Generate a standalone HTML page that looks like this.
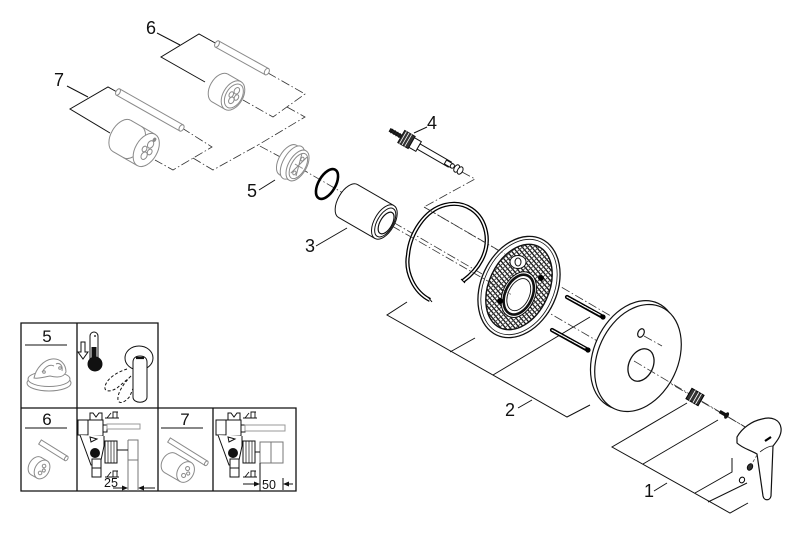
<!DOCTYPE html>
<html><head><meta charset="utf-8"><style>
html,body{margin:0;padding:0;background:#fff;width:800px;height:535px;overflow:hidden}
svg{display:block}
</style></head><body>
<svg width="800" height="535" viewBox="0 0 800 535" xmlns="http://www.w3.org/2000/svg" font-family="'Liberation Sans', Arial, sans-serif">
<defs>
<pattern id="h" width="3.6" height="3.6" patternUnits="userSpaceOnUse" patternTransform="rotate(25)"><rect width="3.6" height="3.6" fill="#fff"/><rect width="3.6" height="1.3" fill="#111"/><rect x="0" width="0.9" height="3.6" fill="#444"/></pattern>
</defs>
<rect width="800" height="535" fill="#fff"/>

<!-- dash-dot axes (under parts) -->
<g fill="none" stroke="#333" stroke-width="0.8" stroke-dasharray="9 2.5 1.5 2.5">
<path d="M268,73 L305,94 L273,117 L243,100"/>
<path d="M287,107 L305,117 L258,145 L284,159"/>
<path d="M182,128 L212,147 L173,170 L155,160"/>
<path d="M193,158 L213,170 L258,145"/>
<path d="M300,168 L752,431"/>
<path d="M462,172 L475,179 L424,207 L640,333"/>
</g>

<!-- leader / bracket lines -->
<g fill="none" stroke="#111" stroke-width="1">
<path d="M157,33 L180,45"/>
<path d="M205,82 L161,57 L199,34 L217,44"/>
<path d="M67,86 L88,97"/>
<path d="M110,133 L70,109 L108,87 L117,92"/>
<path d="M259,190 L275,180"/>
<path d="M316,246 L347,228"/>
<path d="M427,127 L414,133"/>
<path d="M407,302 L387,315 L567,417 L590,405"/>
<path d="M475,338 L450,352"/>
<path d="M590,317 L493,375"/>
<path d="M518,408 L532,400"/>
<path d="M687,403 L612,447 L730,513 L748,503"/>
<path d="M718,420 L643,464"/>
<path d="M732,458 L732,472 L695,493"/>
<path d="M747,483 L708,502"/>
<path d="M654,491 L667,483"/>
</g>

<!-- labels -->
<g font-size="18" fill="#111" text-anchor="middle">
<text x="151" y="34">6</text>
<text x="59" y="86">7</text>
<text x="252" y="197">5</text>
<text x="310" y="252">3</text>
<text x="432" y="129">4</text>
<text x="510" y="416">2</text>
<text x="649" y="497">1</text>
</g>

<!-- pins (grey) -->
<g transform="translate(217,44) rotate(29)" stroke="#8a8a8a" stroke-width="1" fill="#fff">
<rect x="0" y="-3.5" width="57" height="7"/>
<ellipse cx="0" cy="0" rx="2" ry="3.5"/>
<ellipse cx="57" cy="0" rx="2.2" ry="3.5"/>
</g>
<g transform="translate(118,92) rotate(29.5)" stroke="#8a8a8a" stroke-width="1" fill="#fff">
<rect x="0" y="-3.5" width="73" height="7"/>
<ellipse cx="0" cy="0" rx="2" ry="3.5"/>
<ellipse cx="73" cy="0" rx="2.2" ry="3.5"/>
</g>

<!-- cartridge 6 -->
<g transform="translate(220,88) rotate(30)" stroke="#8a8a8a" stroke-width="1" fill="#fff">
<ellipse cx="0" cy="0" rx="10" ry="16"/>
<rect x="0" y="-16" width="15" height="32" stroke="none"/>
<path d="M0,-16 H15 M0,16 H15" fill="none"/>
<ellipse cx="15" cy="0" rx="10" ry="16"/>
<ellipse cx="16" cy="0" rx="8" ry="13"/>
<ellipse cx="16" cy="-6" rx="2.5" ry="3.5"/>
<ellipse cx="16" cy="5" rx="2.5" ry="3.5"/>
<ellipse cx="19" cy="0" rx="2" ry="3"/>
<ellipse cx="13" cy="0" rx="2" ry="3"/>
</g>

<!-- cartridge 7 -->
<g transform="translate(122,136) rotate(30)" stroke="#8a8a8a" stroke-width="1" fill="#fff">
<ellipse cx="0" cy="0" rx="11" ry="18"/>
<rect x="0" y="-18" width="28" height="36" stroke="none"/>
<path d="M0,-18 H28 M0,18 H28" fill="none"/>
<path d="M12,-18 A11,18 0 0 1 12,18" fill="none"/>
<ellipse cx="28" cy="0" rx="11" ry="18"/>
<ellipse cx="29" cy="-7" rx="2.8" ry="4"/>
<ellipse cx="29" cy="6" rx="2.8" ry="4"/>
<ellipse cx="32" cy="0" rx="2.2" ry="3"/>
<ellipse cx="26" cy="0" rx="2.2" ry="3"/>
<ellipse cx="30" cy="-13" rx="1.2" ry="1.8" fill="#8a8a8a"/>
</g>

<!-- cartridge 5 -->
<g transform="translate(288,160) rotate(30)" stroke="#8a8a8a" stroke-width="1" fill="#fff">
<ellipse cx="0" cy="0" rx="9" ry="17"/>
<rect x="0" y="-17" width="10" height="34" stroke="none"/>
<path d="M0,-17 H10 M0,17 H10" fill="none"/>
<ellipse cx="5" cy="0" rx="9" ry="18.5"/>
<ellipse cx="11" cy="0" rx="9" ry="17"/>
<ellipse cx="12" cy="0" rx="7" ry="14"/>
<path d="M9,-12 L15,10 M15,-12 L9,10 M8,0 H17" fill="none"/>
<ellipse cx="12" cy="-8" rx="1.5" ry="2"/>
<ellipse cx="12" cy="8" rx="1.5" ry="2"/>
</g>

<!-- O-ring -->
<g transform="translate(327,184) rotate(30)">
<ellipse cx="0" cy="0" rx="8.5" ry="16.5" fill="none" stroke="#000" stroke-width="2.6"/>
</g>

<!-- cylinder 3 -->
<g transform="translate(348,201) rotate(30)" stroke="#111" stroke-width="1" fill="#fff">
<ellipse cx="0" cy="0" rx="10" ry="19"/>
<rect x="0" y="-19" width="42" height="38" stroke="none"/>
<path d="M0,-19 H42 M0,19 H42" fill="none"/>
<ellipse cx="42" cy="0" rx="10" ry="19"/>
<ellipse cx="43" cy="0" rx="8" ry="16"/>
<ellipse cx="44" cy="0" rx="6" ry="12" stroke-width="1.2"/>
</g>

<!-- stem 4 -->
<g transform="translate(390,130) rotate(30)" stroke="#111" stroke-width="1" fill="#fff">
<rect x="0" y="-1.5" width="13" height="3" fill="#222"/>
<path d="M2,-2.5 V2.5 M5,-2.5 V2.5 M8,-2.5 V2.5 M11,-2.5 V2.5" stroke-width="0.8"/>
<rect x="13" y="-7" width="12" height="14" fill="#333"/>
<path d="M15,-7 V7 M18,-7 V7 M21,-7 V7" stroke="#fff" stroke-width="0.8"/>
<rect x="25" y="-5.5" width="8" height="11"/>
<rect x="33" y="-3" width="36" height="6"/>
<rect x="64" y="-2.2" width="8" height="4.4"/>
<ellipse cx="72" cy="0" rx="2" ry="2.2"/>
<ellipse cx="77" cy="0" rx="2.5" ry="4"/>
<ellipse cx="81" cy="0" rx="2.5" ry="4"/>
</g>

<!-- snap ring -->
<path d="M430,300 C414,292 405,272 408,255 C410,233 425,210 445,205 C465,200 482,212 486,232 C490,252 478,270 463,281" fill="none" stroke="#000" stroke-width="4.2" stroke-linecap="butt"/>
<path d="M430,300 C414,292 405,272 408,255 C410,233 425,210 445,205 C465,200 482,212 486,232 C490,252 478,270 463,281" fill="none" stroke="#fff" stroke-width="1.6"/>
<path d="M428,297 L432,302 M461,279 L465,283" stroke="#000" stroke-width="1"/>

<!-- plate 2 -->
<g transform="translate(519,287) rotate(25)" stroke="#111" fill="#fff">
<ellipse cx="0" cy="0" rx="38" ry="53" stroke-width="1.3"/>
<ellipse cx="0" cy="0" rx="35" ry="50" stroke-width="0.8"/>
<ellipse cx="0" cy="0" rx="30" ry="45" fill="url(#h)" stroke-width="1.4"/>
<ellipse cx="3" cy="7" rx="16" ry="24" fill="#fff" stroke-width="1"/>
<ellipse cx="3" cy="7" rx="13.5" ry="21" fill="#fff" stroke-width="2.6"/>
<ellipse cx="3" cy="7" rx="10.5" ry="17" fill="none" stroke-width="0.9"/>
</g>
<ellipse cx="518" cy="262" rx="8" ry="6.5" fill="#fff" stroke="#111" stroke-width="1"/>
<ellipse cx="518" cy="262" rx="3" ry="4" fill="#fff" stroke="#111" stroke-width="1"/>
<circle cx="500" cy="301" r="3" fill="#000"/>
<circle cx="541" cy="278" r="3" fill="#000"/>

<!-- bolts -->
<g stroke-linecap="round">
<path d="M567,297 L603,317" stroke="#000" stroke-width="4.2"/>
<path d="M567,297 L600,315" stroke="#fff" stroke-width="1.2" stroke-dasharray="1.5 1"/>
<path d="M552,330 L588,350" stroke="#000" stroke-width="4.2"/>
<path d="M552,330 L585,348" stroke="#fff" stroke-width="1.2" stroke-dasharray="1.5 1"/>
</g>
<circle cx="603" cy="317" r="2.6" fill="#000"/>
<circle cx="588" cy="350" r="2.6" fill="#000"/>

<!-- cover (rosette) -->
<g stroke="#111" stroke-width="1.2" fill="#fff">
<ellipse transform="translate(634,355) rotate(25)" cx="0" cy="0" rx="40" ry="57"/>
<ellipse transform="translate(638,358) rotate(25)" cx="0" cy="0" rx="40" ry="56"/>
<ellipse transform="translate(641,365) rotate(25)" cx="0" cy="0" rx="12" ry="17" stroke-width="1.3"/>
<ellipse transform="translate(641,333) rotate(25)" cx="0" cy="0" rx="3" ry="4.5"/>
</g>

<!-- axes drawn over parts -->
<g fill="none" stroke="#333" stroke-width="0.8" stroke-dasharray="9 2.5 1.5 2.5">
<path d="M392,226 L512,295"/>
<path d="M424,207 L505,254"/>
<path d="M634,361 L752,431"/>
<path d="M644,336 L662,346"/>
</g>

<!-- nut -->
<g transform="translate(695,397) rotate(30)">
<rect x="-7" y="-6" width="14" height="12" fill="#333" stroke="#000" stroke-width="1"/>
<path d="M-3,-6 V6 M1,-6 V6 M4,-6 V6" stroke="#fff" stroke-width="0.9"/>
</g>
<!-- screw -->
<g transform="translate(724,414) rotate(30)">
<rect x="-5" y="-1.8" width="7" height="3.6" fill="#111"/>
<ellipse cx="3" cy="0" rx="2" ry="3.6" fill="#111"/>
</g>

<!-- handle -->
<path d="M737,437 C742,428 752,421 762,419 C772,416 780,420 781,428 C782,435 777,441 773,446 L771,496 C770,501 764,501 763,496 L757,454 C750,450 742,448 737,443 Z" fill="#fff" stroke="#111" stroke-width="1.2"/>
<path d="M760,452 C765,448 770,446 773,446" fill="none" stroke="#111" stroke-width="0.8"/>
<path d="M765,441 L771,437" stroke="#000" stroke-width="2.2"/>
<ellipse transform="translate(750,467) rotate(30)" cx="0" cy="0" rx="2.5" ry="3.5" fill="#333" stroke="#000" stroke-width="0.8"/>
<ellipse transform="translate(742,480) rotate(30)" cx="0" cy="0" rx="2.5" ry="3" fill="#fff" stroke="#000" stroke-width="1"/>
<path d="M757,455 L750,467" stroke="#333" stroke-width="0.7" stroke-dasharray="3 2"/>

<!-- ===== INSET ===== -->
<g fill="none" stroke="#111" stroke-width="1.3">
<path d="M21,323 H158 V408 H296 V491 H21 Z"/>
<path d="M21,408 H158"/>
<path d="M77,323 V491"/>
<path d="M158,408 V491"/>
<path d="M213,408 V491"/>
</g>
<g font-size="17" fill="#111" text-anchor="middle">
<text x="47" y="342">5</text>
<text x="47" y="425">6</text>
<text x="185" y="425">7</text>
</g>
<g stroke="#111" stroke-width="1">
<path d="M25,345 H67 M25,428 H67 M161,428 H203"/>
</g>

<!-- cell 5 drawing -->
<g stroke="#8a8a8a" stroke-width="1" fill="#fff">
<ellipse cx="49" cy="383" rx="22" ry="8"/>
<ellipse cx="49" cy="379" rx="21" ry="7.5"/>
<path d="M34,378 C36,368 44,360 52,359 C60,358 66,364 66,372 C64,377 58,378 50,376 C44,377 38,379 34,378 Z"/>
<path d="M42,372 C46,366 50,364 54,366 M56,364 C60,362 63,366 62,371"/>
<circle cx="44" cy="372" r="1.3"/>
<circle cx="60" cy="368" r="1.3"/>
</g>

<!-- thermometer cell -->
<g stroke="#111" stroke-width="1" fill="#fff">
<path d="M90,362 V336 A4,4 0 0 1 98,336 V362" />
<rect x="91.5" y="347" width="5" height="14" fill="#111" stroke="none"/>
<circle cx="95" cy="364" r="7" fill="#111"/>
<path d="M94,336 H96 M95,335 V337" stroke-width="0.8"/>
<path d="M81,342 H85 V352 H88 L83,359 L78,352 H81 Z" stroke-width="1"/>
<!-- ghosts -->
<path d="M127,369 C117,372 106,379 105,387 C104,392 111,392 117,388 L129,378" stroke-dasharray="3 2"/>
<path d="M131,376 C124,383 117,393 118,400 C119,405 126,402 130,396 L134,386" stroke-dasharray="3 2"/>
<!-- knob & lever -->
<ellipse cx="139" cy="358" rx="14" ry="12"/>
<path d="M133,362 C133,358 136,356 140,356 C144,356 147,358 147,362 L147,397 C147,404 133,404 133,397 Z"/>
<path d="M136,358 H144" stroke-width="2.2"/>
</g>

<!-- cell 6 parts -->
<g stroke="#8a8a8a" stroke-width="1" fill="#fff">
<g transform="translate(40,442) rotate(32)"><rect x="0" y="-2.5" width="31" height="5"/><ellipse cx="31" cy="0" rx="1.5" ry="2.5"/></g>
<g transform="translate(36,466) rotate(30)"><ellipse cx="0" cy="0" rx="7" ry="10"/><rect x="0" y="-10" width="7" height="20" stroke="none"/><path d="M0,-10 H7 M0,10 H7"/><ellipse cx="7" cy="0" rx="7" ry="10"/><circle cx="7" cy="-4" r="1.8"/><circle cx="7" cy="4" r="1.8"/><circle cx="9" cy="0" r="1.5"/></g>
</g>
<!-- cell 7 parts -->
<g stroke="#8a8a8a" stroke-width="1" fill="#fff">
<g transform="translate(169,440) rotate(32)"><rect x="0" y="-2.5" width="44" height="5"/><ellipse cx="44" cy="0" rx="1.5" ry="2.5"/></g>
<g transform="translate(170,463) rotate(30)"><ellipse cx="0" cy="0" rx="8" ry="11"/><rect x="0" y="-11" width="18" height="22" stroke="none"/><path d="M0,-11 H18 M0,11 H18"/><ellipse cx="18" cy="0" rx="8" ry="11"/><circle cx="18" cy="-4" r="2"/><circle cx="18" cy="4" r="2"/><circle cx="21" cy="0" r="1.6"/></g>
</g>

<!-- valve diagrams -->
<g stroke="#111" stroke-width="1" fill="#fff">
<path d="M90,420 V413 H93 L96,417 L99,413 H102 V420"/>
<rect x="87" y="420" width="16" height="16"/>
<rect x="78" y="420" width="10" height="15"/>
<rect x="103" y="425" width="4" height="7"/>
<path d="M80,435 L91,465 H100 L104,446 V436"/>
<path d="M90,437 L97,439 L91,442 Z"/>
<rect x="105" y="441" width="12" height="22"/>
<path d="M108,441 V463 M111,441 V463 M114,441 V463" stroke-width="0.7"/>
<circle cx="95" cy="453" r="4.5" fill="#111"/>
<rect x="92" y="459" width="9" height="18"/>
<path d="M92,468 H101"/>
<path d="M105,418 H119 M107,418 L111,413 M113,418 V412 M117,418 V412 M112.5,412 H118" stroke-width="0.9"/>
<path d="M105,477 H119 M107,477 L111,472 M113,477 V471 M117,477 V471 M112.5,471 H118" stroke-width="0.9"/>
</g>
<rect x="107" y="424" width="33" height="5" fill="#fff" stroke="#999" stroke-width="1"/>
<g stroke="#111" stroke-width="1" fill="none">
<path d="M128,440 H138 V491 M128,440 V491 M128,460 H138" stroke="#777"/>
<path d="M117,450 H128"/>
<path d="M113,488 H125 M155,488 H141"/>
</g>
<path d="M128,488 L122,485.5 V490.5 Z M138,488 L144,485.5 V490.5 Z" fill="#111"/>
<text x="111" y="487" font-size="12.5" text-anchor="middle" fill="#111">25</text>

<g transform="translate(138,0)" stroke="#111" stroke-width="1" fill="#fff">
<path d="M90,420 V413 H93 L96,417 L99,413 H102 V420"/>
<rect x="87" y="420" width="16" height="16"/>
<rect x="78" y="420" width="10" height="15"/>
<rect x="103" y="425" width="4" height="7"/>
<path d="M80,435 L91,465 H100 L104,446 V436"/>
<path d="M90,437 L97,439 L91,442 Z"/>
<rect x="105" y="441" width="12" height="22"/>
<path d="M108,441 V463 M111,441 V463 M114,441 V463" stroke-width="0.7"/>
<circle cx="95" cy="453" r="4.5" fill="#111"/>
<rect x="92" y="459" width="9" height="18"/>
<path d="M92,468 H101"/>
<path d="M105,418 H119 M107,418 L111,413 M113,418 V412 M117,418 V412 M112.5,412 H118" stroke-width="0.9"/>
<path d="M105,477 H119 M107,477 L111,472 M113,477 V471 M117,477 V471 M112.5,471 H118" stroke-width="0.9"/>
</g>
<rect x="245" y="425" width="40" height="6" fill="#fff" stroke="#999" stroke-width="1"/>
<g stroke="#777" stroke-width="1" fill="#fff">
<rect x="260" y="442" width="11" height="21"/>
<rect x="271" y="442" width="12" height="21"/>
</g>
<g stroke="#111" stroke-width="1" fill="none">
<path d="M255,452 H260"/>
<path d="M260,463 V491"/>
<path d="M283,478 V490"/>
<path d="M243,484 H256 M293,484 H287"/>
</g>
<path d="M260,484 L254,481.5 V486.5 Z M283,484 L289,481.5 V486.5 Z" fill="#111"/>
<text x="269" y="489" font-size="12.5" text-anchor="middle" fill="#111">50</text>

</svg>
</body></html>
